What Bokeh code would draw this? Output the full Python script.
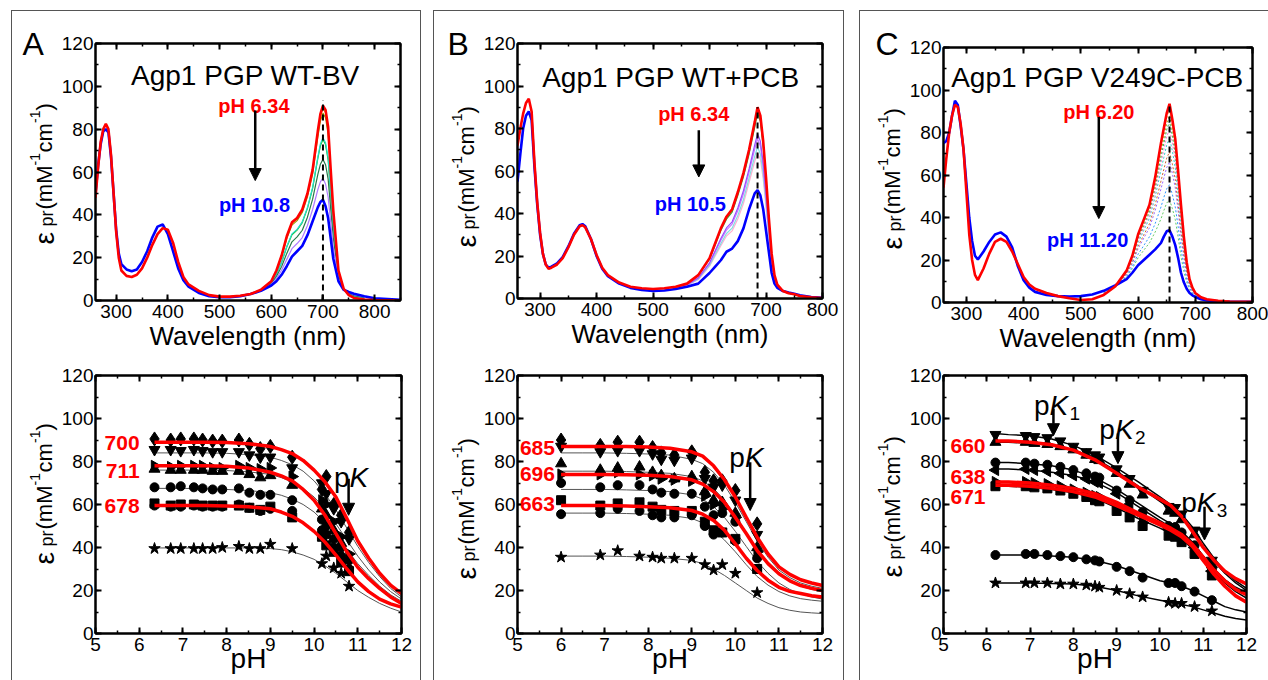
import numpy as np
from bokeh.plotting import figure
from bokeh.models import (Label, Arrow, NormalHead, LinearAxis, SingleIntervalTicker, Range1d, Spacer,
                          CustomLabelingPolicy)
from bokeh.layouts import row, column
from bokeh.embed import file_html
from bokeh.resources import INLINE

FONT = "Liberation Sans"
RED = "#ff0000"
BLUE = "#0000ff"

# ------------------------------------------------------------------ data
# Panel A spectra (Agp1 PGP WT-BV)
WL_A = [260, 265, 270, 275, 280, 285, 290, 295, 300, 305, 310, 320, 330, 340, 350, 360, 370, 380, 390, 400,
        410, 420, 430, 440, 460, 480, 500, 520, 540, 560, 580, 600, 610, 620, 630, 640, 650, 660, 670, 680,
        690, 695, 700, 705, 710, 715, 720, 730, 740, 750, 760, 780, 800, 850]
RED_A = [48, 62, 74, 80, 82.5, 80, 68, 50, 32, 20, 14, 11.5, 11, 12, 15, 20, 26, 31, 33.8, 33,
         27, 18, 11, 7.5, 4.5, 2.5, 1.8, 1.8, 2.2, 3.0, 5.0, 9, 14, 21, 30, 36.5, 38.5, 42.5, 50, 61,
         79, 87, 91, 89, 81, 61, 42, 14, 5.5, 2.5, 1.2, 0.5, 0.2, 0]
BLUE_A = [50, 63, 73, 79, 80, 78.5, 67, 50, 33, 22, 17, 14.5, 13.7, 14.5, 18, 23, 29.5, 34.5, 35.5, 31,
          23, 15, 9.5, 6.5, 3.5, 2, 1.5, 1.5, 2, 3, 4.5, 7, 9, 12, 16, 20.5, 23, 25.5, 30.5, 37,
          43.5, 46, 47, 44, 38.5, 29, 19.5, 9, 5, 4, 3.2, 2, 1, 0.3]
WLI_A = [540, 560, 580, 600, 610, 620, 630, 640, 650, 660, 670, 680, 690, 695, 700, 705, 710, 715, 720, 730,
         740, 750, 760, 780]
ORANGE_A = [2.2, 3.0, 5.0, 8.9, 13.9, 20.7, 29.6, 36, 38, 42.0, 49.4, 60.3, 77.9, 85.8, 89.7, 87.7, 79.7, 60, 41.3, 13.9, 5.5, 2.6, 1.3, 0.5]
OLIVE_A = [2.2, 3.0, 5.0, 8.8, 13.6, 20.3, 28.9, 35.2, 37.3, 41.1, 48.4, 59.1, 76.2, 83.7, 87.5, 85.4, 77.6, 58.4, 40.2, 13.6, 5.5, 2.6, 1.4, 0.6]
GREEN_A = [2.1, 3.0, 4.8, 8.3, 12.2, 17.8, 25, 30.7, 32.9, 36.4, 43, 52.4, 66.2, 72.2, 75.2, 72.8, 65.7, 49.5, 33.9, 12.2, 5.3, 3.0, 1.9, 1.0]
CYAN_A = [2.1, 3.0, 4.8, 8.3, 12.3, 17.9, 25.2, 31.1, 33.2, 36.7, 43.4, 52.8, 66.9, 73.1, 76.0, 73.7, 66.6, 50.1, 34.4, 12.3, 5.3, 3.0, 1.9, 1.0]
DKGREEN_A = [2.1, 3.0, 4.7, 7.9, 11.2, 15.9, 22, 27.4, 29.7, 32.8, 38.9, 47.3, 58.8, 63.6, 65.9, 63.4, 56.8, 42.8, 29.2, 11.2, 5.2, 3.4, 2.3, 1.4]
VIOLET_A = [2.0, 3.0, 4.6, 7.5, 10.2, 14.1, 19.2, 24.2, 26.6, 29.4, 35, 42.5, 51.7, 55.4, 57.1, 54.4, 48.3, 36.4, 24.7, 10.2, 5.1, 3.7, 2.7, 1.7]
PEAK_A = [700, 700]
PEAK_A_Y = [0, 93.5]

# Panel B spectra (Agp1 PGP WT+PCB)
WL_B = [260, 265, 270, 275, 280, 285, 290, 295, 300, 305, 310, 315, 320, 330, 340, 350, 360, 370, 375, 380,
        390, 400, 410, 420, 440, 460, 480, 500, 520, 540, 560, 580, 600, 610, 620, 630, 640, 650, 660, 670,
        680, 685, 690, 695, 700, 705, 710, 715, 720, 730, 740, 750, 760, 780, 800]
RED_B = [72, 80, 87, 92, 94, 88, 64, 45, 31, 21, 16, 14, 14.5, 16, 19, 24, 30, 34, 34.5, 33.5,
         28, 20.5, 14.5, 11, 7.5, 5.5, 4.8, 4.5, 4.8, 5.5, 7, 11, 19, 26, 33, 38.5, 42, 50, 59, 70,
         83, 90, 86, 74, 57, 38, 21, 11, 6.5, 3.5, 2.5, 2, 1.2, 0.6, 0.2]
BLUE_B = [55, 68, 80, 86, 88, 84, 62, 44, 30, 21, 16, 14.5, 15, 16.5, 19.5, 24.5, 30.5, 34.5, 35, 34,
          28, 20, 14, 10.5, 7, 5, 4, 3.5, 3.8, 4.5, 5.5, 7, 12, 15, 18, 22, 23.5, 27, 33, 42,
          49.5, 51, 48.5, 42, 32, 22, 12, 7, 5, 3.5, 2.8, 2.2, 1.5, 0.7, 0.3]
WLI_B = [540, 560, 580, 600, 610, 620, 630, 640, 650, 660, 670, 680, 685, 690, 695, 700, 705, 710, 715, 720,
         730, 740, 760, 780]
ORANGE_B = [5.5, 7, 10.9, 18.8, 25.7, 32.6, 38, 41.4, 49.3, 58.2, 69.2, 82, 88.8, 84.9, 73, 56.3, 37.5, 20.7, 10.9, 6.5, 3.5, 2.5, 1.2, 0.6]
GREEN_B = [5.4, 6.9, 10.7, 18.5, 25.2, 32, 37.3, 40.7, 48.4, 57.2, 68, 80.7, 87.3, 83.4, 71.8, 55.3, 36.9, 20.4, 10.7, 6.4, 3.5, 2.5, 1.2, 0.6]
VIOLET_B = [5.2, 6.5, 9.7, 16.8, 22.5, 28.2, 33.2, 36.1, 42.6, 50.7, 61, 72.3, 77.5, 74, 63.8, 49, 32.9, 18.1, 9.7, 6, 3.5, 2.6, 1.3, 0.6]
VIOLET2_B = [5.1, 6.4, 9.5, 16.3, 21.8, 27.3, 32.2, 35, 41.3, 49.1, 59.4, 70.3, 75.2, 71.8, 61.8, 47.5, 31.9, 17.6, 9.5, 5.9, 3.5, 2.6, 1.3, 0.6]
CYAN_B = [5.0, 6.3, 9.1, 15.6, 20.7, 25.8, 30.6, 33.1, 39, 46.5, 56.6, 66.9, 71.3, 68, 58.6, 45, 30.3, 16.7, 9.1, 5.8, 3.5, 2.6, 1.3, 0.6]
PINK_B = [5.0, 6.2, 8.8, 15.2, 20, 24.8, 29.4, 31.8, 37.4, 44.7, 54.6, 64.6, 68.6, 65.4, 56.4, 43.3, 29.2, 16.1, 8.8, 5.7, 3.5, 2.7, 1.4, 0.7]
PEAK_B = [685, 685]
PEAK_B_Y = [0, 90]

# Panel C spectra (Agp1 PGP V249C-PCB)
WL_C = [260, 265, 270, 275, 280, 285, 290, 295, 300, 305, 310, 315, 320, 330, 340, 350, 360, 370, 380, 390,
        400, 410, 420, 440, 460, 480, 500, 520, 540, 560, 580, 590, 600, 610, 620, 630, 640, 645, 650, 655,
        660, 665, 670, 675, 680, 685, 690, 695, 700, 710, 720, 740, 760, 800]
RED_C = [54, 68, 80, 88, 93, 92, 84, 72, 52, 32, 20, 13, 10.5, 16, 23, 28.5, 30, 28.5, 24, 18,
         12, 8.5, 6.5, 4.5, 3, 2, 1.2, 1.5, 3.5, 7.5, 15, 22, 32, 39, 46, 59, 75, 82, 89, 93.5,
         86, 77, 62, 46, 31, 19, 11, 7, 4.5, 2.5, 1.5, 0.8, 0.5, 0.3]
BLUE_C = [75, 76, 80, 88, 95, 93, 83, 72, 56, 40, 29, 22, 20.2, 24, 28.5, 32, 33, 31, 26, 17,
          10.5, 7, 5, 3.5, 3, 2.8, 3, 3.8, 5.5, 8, 11, 14, 17.5, 20, 22.5, 25, 28, 31, 33.5, 34,
          31, 27, 21, 14, 9.5, 6.5, 4.5, 3.4, 2.6, 1.5, 1, 0.6, 0.4, 0.3]
WLI_C = [540, 560, 580, 590, 600, 610, 620, 630, 640, 645, 650, 655, 660, 665, 670, 675, 680, 685, 690, 695,
         700, 710, 720, 740]
C_I1 = [3.6, 7.5, 14.8, 21.7, 31.4, 38.2, 45.1, 57.6, 73.1, 80, 86.8, 91.1, 83.8, 75, 60.4, 44.7, 30.1, 18.5, 10.7, 6.9, 4.4, 2.5, 1.5, 0.8]
C_I2 = [3.7, 7.5, 14.6, 21.3, 30.7, 37.3, 43.9, 55.9, 70.8, 77.4, 84, 88.1, 81.1, 72.5, 58.3, 43.1, 29.1, 17.9, 10.4, 6.7, 4.3, 2.4, 1.5, 0.8]
C_I3 = [3.8, 7.6, 14.4, 20.9, 30, 36.3, 42.7, 54.2, 68.4, 74.9, 81.2, 85.2, 78.3, 70, 56.3, 41.5, 28, 17.3, 10.1, 6.5, 4.2, 2.4, 1.4, 0.8]
C_I4 = [3.9, 7.6, 14.2, 20.4, 29.1, 35.2, 41.3, 52.2, 65.6, 71.8, 77.9, 81.6, 75, 67, 53.8, 39.6, 26.7, 16.5, 9.7, 6.3, 4.1, 2.3, 1.4, 0.8]
C_I5 = [4.0, 7.6, 13.9, 19.8, 28.1, 33.9, 39.7, 49.8, 62.3, 68.2, 74, 77.4, 71.2, 63.5, 50.9, 37.4, 25.2, 15.6, 9.2, 6, 4, 2.2, 1.4, 0.7]
C_I6 = [4.3, 7.7, 13.5, 19, 26.5, 31.8, 37.1, 46.1, 57.1, 62.6, 67.9, 70.9, 65.1, 58, 46.4, 33.8, 22.8, 14.3, 8.5, 5.6, 3.8, 2.1, 1.3, 0.7]
C_I7 = [4.4, 7.7, 13.2, 18.3, 25.3, 30.3, 35.2, 43.4, 53.4, 58.5, 63.5, 66.1, 60.7, 54, 43.1, 31.3, 21.1, 13.3, 8, 5.3, 3.6, 2.0, 1.3, 0.7]
C_I8 = [4.8, 7.8, 12.4, 16.9, 22.7, 26.8, 31, 37.2, 44.9, 49.4, 53.5, 55.4, 50.8, 45, 35.8, 25.5, 17.2, 11, 6.8, 4.7, 3.3, 1.9, 1.2, 0.7]
C_I9 = [5.0, 7.9, 12, 15.9, 21, 24.6, 28.1, 33.2, 39.3, 43.2, 46.8, 48.3, 44.2, 39, 30.8, 21.7, 14.7, 9.5, 6, 4.3, 3.1, 1.7, 1.1, 0.6]
PEAK_C = [655, 655]
PEAK_C_Y = [0, 93.6]

# Panel A titration
PH_A = [6.35, 6.72, 6.95, 7.25, 7.45, 7.68, 7.9, 8.28, 8.52, 8.77, 9.0, 9.5, 10.18, 10.28, 10.45, 10.62, 10.8]
A_DIAMOND = [90.5, 90, 90.5, 90.5, 90, 89.5, 89.5, 90, 88, 86, 87, 82, 67, 73, 60, 55, 47]
A_DOWNTRI = [85.5, 85.5, 85, 85.5, 85, 84.5, 84.5, 84.5, 83, 82, 82, 77, 70, 65, 58, 52, 44]
A_RIGHTTRI = [78, 77.5, 78, 78, 78, 77, 77, 78, 77, 76.5, 77, 73, 62, 60, 52, 45, 37]
A_UPTRI = [76.5, 76, 76, 76, 76, 75.5, 75.5, 75.5, 74, 72.5, 73.5, 69, 58, 55, 48, 42, 35]
A_CIRCLE = [68, 68, 68.5, 68, 67.5, 67, 67, 67.5, 65.5, 64.5, 64.5, 62, 53, 50, 44, 40, 34]
A_SQUARE = [60.5, 59.5, 60, 60, 59.5, 59.5, 59.5, 59.5, 58.5, 57.5, 59, 54, 45, 41, 38, 33, 29]
A_CIRCLE2 = [59.5, 59, 59, 59.5, 59, 59, 59, 60, 58.5, 57, 58, 57, 48, 46, 40, 36, 30]
A_STAR = [39.5, 39.5, 39.5, 39.5, 39.5, 39.5, 40, 40.5, 39.5, 39.5, 41.5, 39.5, 32.5, 36, 30.5, 28, 22]
PHF_A = [6.35, 7, 7.5, 8, 8.5, 9, 9.25, 9.5, 9.75, 10, 10.25, 10.5, 10.75, 11, 11.25, 11.5, 11.75, 12]
FIT_A_700 = [89, 89, 89, 88.8, 88.3, 87, 85.5, 83.7, 80.5, 76, 70.5, 63.5, 53.5, 43, 35, 28, 22.5, 18.6]
FIT_A_711 = [78, 78, 78, 77.8, 77, 75, 73.3, 71, 67, 62, 55, 46.5, 38, 30.8, 25.5, 21, 17, 14]
FIT_A_678 = [59.5, 59.5, 59.5, 59.3, 59, 58, 56.5, 54.5, 51.5, 47.5, 42.5, 36.5, 30, 24, 19.5, 16, 13.8, 12.3]
FIT_A_DT = [84, 84, 84, 83.8, 83.2, 82, 80.5, 78.5, 75.5, 71, 65, 57.5, 49, 40.5, 33, 26.5, 21, 17]
FIT_A_UT = [76, 76, 76, 75.8, 75.2, 74, 72.5, 70.5, 67.5, 63.5, 58, 51, 43.5, 36, 29.5, 24, 19.5, 16]
FIT_A_CI = [67.5, 67.5, 67.3, 67, 66.5, 65.5, 64.3, 62.5, 60, 56.5, 51.5, 45.5, 39, 32.5, 27, 22, 18, 15]
FIT_A_ST = [39.8, 39.8, 39.8, 39.8, 39.8, 39.5, 39, 38, 36.5, 34.5, 31.5, 28, 24, 20, 16.8, 14, 11.8, 10]
LAB_A = ["700", "711", "678"]
LAB_A_Y = [88.7, 75.8, 59.5]

# Panel B titration
PH_B = [6.0, 6.9, 7.3, 7.8, 8.1, 8.3, 8.6, 9.0, 9.3, 9.5, 9.7, 10.0, 10.5]
B_DIAMOND = [90, 87.5, 89, 89, 86.5, 84, 83, 84.5, 75, 71, 71, 66.5, 51]
B_DOWNTRI = [87, 84.5, 85, 85, 83.5, 81, 80.5, 81.5, 72, 68, 69, 62, 46]
B_UPTRI = [79, 76, 77, 77.5, 75, 73.5, 72, 73, 66, 62, 61, 56, 40]
B_RIGHTTRI = [74, 74, 75, 74, 73.5, 72, 71.5, 71, 64, 60, 58, 54, 38]
B_CIRCLE = [70, 68, 69, 69, 67, 65.5, 65, 65, 59, 55, 56, 52, 35]
B_SQUARE = [62, 59.5, 60.5, 61, 59, 57.5, 57, 57, 52, 48, 47, 44, 30]
B_CIRCLE2 = [55.5, 56, 58, 57, 55, 54, 54, 55, 50, 46, 47, 43, 30]
B_STAR = [35.5, 36.5, 38.5, 36, 35.5, 35, 35, 35, 32, 29.5, 32, 28, 19]
PHF_B = [6.0, 6.5, 7, 7.5, 8, 8.5, 9, 9.25, 9.5, 9.75, 10, 10.25, 10.5, 10.75, 11, 11.25, 11.5, 11.75, 12]
FIT_B_685 = [87, 87, 87, 87, 86.8, 86.2, 84.5, 82.5, 78, 71.5, 63.5, 54, 44.8, 37, 31, 27.5, 25, 23.5, 22.3]
FIT_B_696 = [74, 74, 74, 73.8, 73.6, 73, 71.5, 69.5, 66, 61, 54, 46.5, 38.6, 32.5, 27.8, 24.5, 22.3, 21, 20]
FIT_B_663 = [59.5, 59.5, 59.5, 59.3, 59, 58.5, 57.2, 55.5, 52.6, 48, 41.7, 35, 29.3, 24.8, 21.5, 19.6, 18.6, 17.6, 17]
FIT_B_84 = [84, 84, 84, 83.8, 83.5, 83, 81, 79, 75, 69, 61, 52, 43, 35.5, 29.5, 26, 23.5, 22, 21]
FIT_B_75 = [75.5, 75.5, 75.5, 75.3, 75, 74.5, 73, 71, 67.5, 62, 55, 47, 39.5, 33, 28, 24.5, 22, 20.5, 19.5]
FIT_B_67 = [67, 67, 67, 66.8, 66.5, 66, 64.5, 62.5, 59, 54, 47.5, 40.5, 33.5, 28, 23.5, 20.5, 18.5, 17, 16]
FIT_B_56 = [56, 56, 56, 55.8, 55.5, 55, 53.5, 51.5, 48, 43.5, 38, 32, 26.5, 22.5, 19.5, 17.5, 16.2, 15.5, 15]
FIT_B_36 = [36, 36, 36, 35.8, 35.5, 35, 34, 32.5, 30, 27, 23.5, 20, 16.5, 14, 12, 10.8, 10, 9.6, 9.3]
LAB_B = ["685", "696", "663"]
LAB_B_Y = [86.4, 74.3, 60.3]

# Panel C titration
PH_C = [6.2, 6.9, 7.1, 7.4, 7.7, 8.0, 8.3, 8.5, 8.6, 9.0, 9.3, 9.6, 10.2, 10.35, 10.5, 10.8, 11.2]
C_DOWNTRI = [92.5, 92, 91.5, 91, 89.5, 87, 84.5, 83, 82, 76.5, 72, 66.5, 59, 58.5, 55.5, 48, 34]
C_UPTRI = [89, 89, 88.5, 88, 87, 85.5, 83, 81, 80.5, 74.5, 69.5, 64.5, 57, 56, 53, 46, 32]
C_CIRCLE = [79.5, 79.5, 79, 78.5, 77.5, 76, 74.5, 73, 72.5, 66.5, 62, 56.5, 50, 49.5, 47, 41, 30]
C_LEFTTRI = [76, 76.5, 76, 75.5, 74.5, 73.5, 72, 70.5, 70, 65, 60, 55, 48.5, 48, 45.5, 40, 29]
C_RIGHTTRI = [70.5, 70.5, 70, 69.5, 68.5, 67, 65.5, 64, 63.5, 58.5, 55.5, 51.5, 47, 46, 43.5, 38, 27.5]
C_SQUARE = [68.5, 68.5, 68, 67.5, 66.5, 65, 63.5, 62, 61.5, 57, 54, 50, 45.5, 45, 42.5, 37, 27]
C_CIRCLE2 = [36.5, 37, 37, 36.5, 36, 35.5, 34.5, 34, 33.5, 31, 29, 26, 23.5, 23.5, 22, 19.5, 15.5]
C_STAR = [23.5, 23.5, 23.5, 23.5, 23, 23, 22.5, 22, 21.5, 20, 18.5, 17, 14.5, 14, 14, 12.5, 10.5]
PHF_C = [6.2, 6.5, 7, 7.5, 8, 8.5, 9, 9.5, 10, 10.25, 10.5, 10.75, 11, 11.25, 11.5, 11.75, 12]
FIT_C_660 = [89.5, 89.5, 89, 87.8, 85.3, 80.8, 74.5, 68, 62.5, 59.5, 54.5, 47.5, 40, 34, 29, 25.5, 23]
FIT_C_638 = [70.5, 70.5, 70, 69, 67.5, 65, 61, 56, 51.5, 49, 46, 41.5, 35.5, 29.5, 24.5, 20.5, 18]
FIT_C_671 = [69, 69, 68.5, 67.5, 66, 63.5, 59.5, 55, 50.5, 48, 45, 40.5, 34, 27.5, 22, 17.5, 14.5]
FIT_C_DT = [93, 92.5, 92, 90.5, 87.5, 83, 77, 70.5, 63.5, 60, 55.5, 49.5, 42, 35, 29, 24.5, 21]
FIT_C_UT = [89, 89, 88.5, 87.5, 85.5, 81.5, 75.5, 68.5, 61.5, 58, 54, 48, 40.5, 33.5, 28, 23.5, 20]
FIT_C_CI = [79.5, 79.5, 79, 78, 76, 72.5, 67, 60.5, 54, 51, 47.5, 42.5, 36, 30, 25, 21.5, 19]
FIT_C_LT = [76.5, 76.5, 76, 75, 73.5, 70.5, 65.5, 59, 52.5, 49.5, 46.5, 42, 36, 30, 25, 21, 18.5]
FIT_C_SQ = [68.5, 68.5, 68, 67, 65.5, 63, 58.5, 53.5, 49, 46.5, 44, 39.5, 34, 28.5, 23.5, 19.5, 16.5]
FIT_C_CI2 = [36.5, 36.5, 36.5, 36, 35.5, 34, 31.5, 28, 24.5, 23.5, 22, 20, 17.5, 15, 12.5, 11, 10]
FIT_C_ST = [23.5, 23.5, 23.5, 23.3, 23, 22, 20, 17.5, 15.5, 14.5, 13.5, 12.5, 11, 9.5, 8, 7, 6.3]
LAB_C = ["660", "638", "671"]
LAB_C_Y = [87.4, 72.7, 63.4]


# ------------------------------------------------------------------ helpers
HIDE = "for (const i of indices) indices.unset(i)"


def style_axis(ax, labels):
    ax.axis_line_width = 2
    ax.axis_line_color = "black"
    ax.major_tick_in = 6
    ax.major_tick_out = 0
    ax.minor_tick_in = 3
    ax.minor_tick_out = 0
    ax.major_tick_line_width = 2
    ax.minor_tick_line_width = 1.5
    ax.major_tick_line_color = "black"
    ax.minor_tick_line_color = "black"
    ax.major_label_text_font = FONT
    ax.major_label_text_color = "black"
    ax.major_label_standoff = 2
    ax.axis_label_text_font = FONT
    ax.axis_label_text_font_style = "normal"
    ax.axis_label_text_color = "black"
    if labels:
        ax.major_label_text_font_size = "19px"
    else:
        ax.major_label_text_font_size = "1px"
        ax.major_label_policy = CustomLabelingPolicy(code=HIDE)


def make_fig(w, h, bl, br, bt, bb, xr, yr, xtick, xlabel, xlsize, xlstand):
    p = figure(width=w, height=h, x_range=Range1d(*xr), y_range=Range1d(*yr),
               min_border_left=bl, min_border_right=br, min_border_top=bt, min_border_bottom=bb,
               output_backend="svg", toolbar_location=None, x_axis_type=None, y_axis_type=None,
               frame_align=False)
    p.outline_line_color = "black"
    p.outline_line_width = 2
    p.background_fill_color = "white"
    p.border_fill_color = "white"
    for loc in ("below", "above"):
        ax = LinearAxis(ticker=SingleIntervalTicker(interval=xtick, num_minor_ticks=2))
        style_axis(ax, loc == "below")
        if loc == "below":
            ax.major_label_standoff = 4
            ax.axis_label = xlabel
            ax.axis_label_text_font_size = f"{xlsize}px"
            ax.axis_label_standoff = xlstand
        p.add_layout(ax, loc)
    for loc in ("left", "right"):
        ax = LinearAxis(ticker=SingleIntervalTicker(interval=20, num_minor_ticks=2))
        style_axis(ax, loc == "left")
        p.add_layout(ax, loc)
    return p


def side_fig(w, h):
    p = figure(width=w, height=h, x_range=Range1d(0, w), y_range=Range1d(0, h),
               min_border_left=0, min_border_right=0, min_border_top=0, min_border_bottom=0,
               output_backend="svg", toolbar_location=None, x_axis_type=None, y_axis_type=None,
               frame_align=False)
    p.outline_line_color = None
    p.background_fill_color = "white"
    p.border_fill_color = "white"
    return p


def lab(p, x, y, text, size, color="black", style="normal", align="center", baseline="alphabetic",
        angle=0.0, xo=0, yo=0):
    p.add_layout(Label(x=x, y=y, text=text, text_font=FONT,
                       text_font_size=f"{size}px", text_color=color, text_font_style=style,
                       text_align=align, text_baseline=baseline, angle=angle, x_offset=xo, y_offset=yo))


def side_ylabel(p, h, top, bx, start_y):
    # start_y: page y where the label starts (lower end)
    y0 = h - (start_y - top)
    pieces = [("\u03b5", 28, 0, 0), ("pr", 18, 18, 2), ("(mM", 22, 35, 0), ("-1", 14, 79, -10),
              ("cm", 22, 92, 0), ("-1", 14, 121.5, -10), (")", 22, 134, 0)]
    for t, s, along, cross in pieces:
        lab(p, bx + cross, y0 + along, t, s, align="left", angle=np.pi / 2)


def pk(p, x, y, sub=None):
    lab(p, x, y, "p", 28, align="right")
    lab(p, x, y, "K", 28, style="italic", align="left")
    if sub:
        lab(p, x, y, sub, 19, align="left", xo=20, yo=-8)


def arrow(p, x, y0, y1, w=2.5, size=12):
    p.add_layout(Arrow(end=NormalHead(size=size, fill_color="black", line_color="black"),
                       x_start=x, y_start=y0, x_end=x, y_end=y1, line_width=w, line_color="black"))


SIDE_W = 46
TOP_H = 349
BOT_H = 320


def top_main(geom, xr, wl, red, blue, wli, inters, peak, peak_y, title, tpos, lo, lopos, hi, hipos,
             arr, inter_dash="solid", inter_w=1.2):
    p = make_fig(*geom, xr, (0, 120), 100, "Wavelength (nm)", 26, 0)
    for arr_y, col in inters:
        p.line(wli, arr_y, line_color=col, line_width=inter_w, line_dash=inter_dash)
    p.line(wl, blue, line_color=BLUE, line_width=2.6)
    p.line(wl, red, line_color=RED, line_width=2.6)
    p.line(peak, peak_y, line_color="black", line_width=2, line_dash="6 4")
    lab(p, tpos[0], tpos[1], title, 28)
    lab(p, lopos[0], lopos[1], lo, 20, color=RED, style="bold")
    lab(p, hipos[0], hipos[1], hi, 20, color=BLUE, style="bold")
    arrow(p, *arr)
    return p


def bottom_main(geom, xs, markers, phf, thin, reds, thin_color, thin_w, labels, laby, labx):
    p = make_fig(*geom, (5, 12), (0, 120), 1, "pH", 28, -11)
    for f in thin:
        p.line(phf, f, line_color=thin_color, line_width=thin_w)
    for ys, mk, size, ang in markers:
        p.scatter(xs, ys, marker=mk, size=size, angle=ang, fill_color="black", line_color="black")
    for f in reds:
        p.line(phf, f, line_color=RED, line_width=3.5)
    for t, y in zip(labels, laby):
        lab(p, labx, y, t, 21, color=RED, style="bold", align="right", baseline="middle")
    return p


def panel(main_top, main_bot, letter, letter_x, letter_y, content_left, eps_top, eps_bot, style):
    st = side_fig(SIDE_W, TOP_H)
    lab(st, letter_x - content_left, TOP_H - (letter_y - 11), letter, 32, align="left")
    side_ylabel(st, TOP_H, 11, 32, eps_top)
    sb = side_fig(SIDE_W, BOT_H)
    side_ylabel(sb, BOT_H, 360, 32, eps_bot)
    return column(row(st, main_top), row(sb, main_bot), styles=style)


# ------------------------------------------------------------------ panel A
pA1 = top_main((362, TOP_H, 35, 20, 32, 60), (260, 850), WL_A, RED_A, BLUE_A, WLI_A,
               [(ORANGE_A, "#ff9a00"), (OLIVE_A, "#9a9a00"), (GREEN_A, "#22bb22"), (CYAN_A, "#22ddcc"),
                (DKGREEN_A, "#2a7a4a"), (VIOLET_A, "#b07cff")],
               PEAK_A, PEAK_A_Y, "Agp1 PGP WT-BV", (550, 105), "pH 6.34", (566.5, 90.6),
               "pH 10.8", (567.5, 44.4), (569, 88.7, 56))
pA2 = bottom_main((362, BOT_H, 32, 19, 15, 47), PH_A,
                  [(A_STAR, "star", 12, 0), (A_CIRCLE2, "circle", 9, 0), (A_SQUARE, "square", 9, 0),
                   (A_CIRCLE, "circle", 9, 0), (A_UPTRI, "triangle", 11, 0),
                   (A_RIGHTTRI, "triangle", 11, -np.pi / 2), (A_DOWNTRI, "inverted_triangle", 11, 0),
                   (A_DIAMOND, "diamond", 14, 0)],
                  PHF_A, [FIT_A_DT, FIT_A_UT, FIT_A_CI, FIT_A_ST], [FIT_A_700, FIT_A_711, FIT_A_678],
                  "#555555", 1, LAB_A, LAB_A_Y, 6.01)
pk(pA2, 10.81, 72.7)
arrow(pA2, 10.79, 72, 55)

# ------------------------------------------------------------------ panel B
pB1 = top_main((363, TOP_H, 34, 21, 32, 62), (260, 800), WL_B, RED_B, BLUE_B, WLI_B,
               [(ORANGE_B, "#ff9a00"), (GREEN_B, "#33aa33"), (PINK_B, "#ffb0d0"), (CYAN_B, "#7fe0e0"),
                (VIOLET2_B, "#c77dff"), (VIOLET_B, "#9a4dff")],
               PEAK_B, PEAK_B_Y, "Agp1 PGP WT+PCB", (531.7, 104), "pH 6.34", (572, 86.7),
               "pH 10.5", (566, 44.4), (581, 79.2, 57.2))
pB2 = bottom_main((363, BOT_H, 32, 21, 15, 47), PH_B,
                  [(B_STAR, "star", 12, 0), (B_CIRCLE2, "circle", 9, 0), (B_SQUARE, "square", 9, 0),
                   (B_CIRCLE, "circle", 9, 0), (B_RIGHTTRI, "triangle", 11, -np.pi / 2),
                   (B_UPTRI, "triangle", 11, 0), (B_DOWNTRI, "inverted_triangle", 11, 0),
                   (B_DIAMOND, "diamond", 14, 0)],
                  PHF_B, [FIT_B_84, FIT_B_75, FIT_B_67, FIT_B_56, FIT_B_36], [FIT_B_685, FIT_B_696, FIT_B_663],
                  "#555555", 1, LAB_B, LAB_B_Y, 5.86)
pk(pB2, 10.22, 82)
arrow(pB2, 10.34, 79.7, 57.2)

# ------------------------------------------------------------------ panel C
pC1 = top_main((362, TOP_H, 37, 16, 36, 58), (260, 800), WL_C, RED_C, BLUE_C, WLI_C,
               [(C_I9, "#66cc66"), (C_I8, "#3399ff"), (C_I7, "#9966ff"), (C_I6, "#cc6633"),
                (C_I5, "#33cccc"), (C_I4, "#ff77cc"), (C_I3, "#33aa55"), (C_I2, "#aaaa22"),
                (C_I1, "#ff9933")],
               PEAK_C, PEAK_C_Y, "Agp1 PGP V249C-PCB", (529, 105.9), "pH 6.20", (531.5, 89.7),
               "pH 11.20", (512, 29.3), (531.4, 87.3, 39.5), inter_dash="2 2", inter_w=1)
pC2 = bottom_main((362, BOT_H, 31, 22, 15, 47), PH_C,
                  [(C_STAR, "star", 12, 0), (C_CIRCLE2, "circle", 9, 0), (C_SQUARE, "square", 9, 0),
                   (C_RIGHTTRI, "triangle", 11, -np.pi / 2), (C_LEFTTRI, "triangle", 11, np.pi / 2),
                   (C_CIRCLE, "circle", 9, 0), (C_UPTRI, "triangle", 11, 0),
                   (C_DOWNTRI, "inverted_triangle", 11, 0)],
                  PHF_C, [FIT_C_DT, FIT_C_UT, FIT_C_CI, FIT_C_LT, FIT_C_SQ, FIT_C_CI2, FIT_C_ST],
                  [FIT_C_660, FIT_C_638, FIT_C_671], "black", 1.5, LAB_C, LAB_C_Y, 5.97)
pk(pC2, 7.45, 106, "1")
arrow(pC2, 7.54, 104.5, 92)
pk(pC2, 8.96, 94.7, "2")
arrow(pC2, 9.03, 93, 79)
pk(pC2, 10.85, 61, "3")
arrow(pC2, 11.03, 59, 43.5)

# ------------------------------------------------------------------ layout
BOX = {"border-top": "1px solid #555555", "border-left": "1px solid #555555",
       "border-right": "1px solid #555555"}
BOXC = {"border-top": "1px solid #555555", "border-left": "1px solid #555555"}
colA = panel(pA1, pA2, "A", 22, 43, 12, 244, 564, BOX)
colB = panel(pB1, pB2, "B", 447, 43, 434, 247, 579, BOX)
colC = panel(pC1, pC2, "C", 875, 43, 860, 249, 577, BOXC)
layout = column(Spacer(height=10),
                row(Spacer(width=11), colA, Spacer(width=12), colB, Spacer(width=15), colC))

open("out.html", "w").write(file_html(layout, INLINE))
